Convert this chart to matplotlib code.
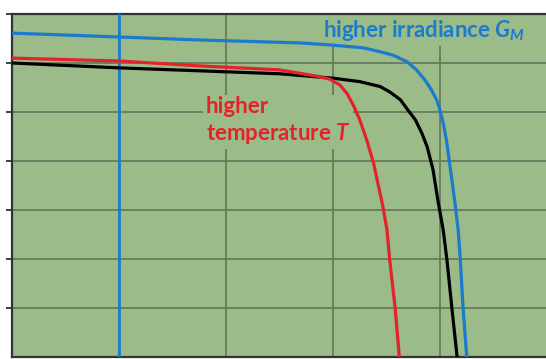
import matplotlib
matplotlib.use('Agg')
import matplotlib.pyplot as plt

# I-V curves (voltage V, current A)
v_ref = [0, 10.1, 17.6, 25.0, 30.0, 32.5, 34.4, 35.3, 36.3, 37.0, 37.7, 38.3, 38.8, 39.2,
         39.35, 39.8, 40.3, 40.65, 41.1, 41.6]
i_ref = [6.00, 5.90, 5.84, 5.78, 5.69, 5.62, 5.52, 5.41, 5.25, 5.04, 4.84, 4.57, 4.29, 3.95,
         3.82, 3.20, 2.59, 1.98, 1.02, 0.0]

v_irr = [0, 10.1, 17.6, 26.9, 29.7, 32.8, 34.4, 35.6, 36.9, 37.8, 38.6, 39.2, 39.7, 40.0,
         40.3, 40.6, 40.9, 41.4, 41.7, 41.9, 42.15, 42.5]
i_irr = [6.61, 6.53, 6.47, 6.41, 6.37, 6.31, 6.23, 6.16, 6.03, 5.86, 5.65, 5.45, 5.24, 5.04,
         4.77, 4.43, 3.95, 3.14, 2.59, 1.98, 1.02, 0.0]

v_temp = [0, 10.1, 17.6, 25.0, 26.9, 28.5, 29.7, 30.65, 31.3, 31.9, 32.5, 33.15, 33.8, 34.2,
          34.6, 35.05, 35.3, 35.8, 36.2]
i_temp = [6.10, 6.04, 5.94, 5.86, 5.79, 5.73, 5.67, 5.55, 5.38, 5.14, 4.84, 4.43, 3.95, 3.54,
          3.14, 2.59, 1.98, 1.02, 0.0]

v_mark = 10

bg = '#9bbb88'
grid_col = '#6a7a5e'
blue = '#1b7bcc'
red = '#e3232b'

plt.rcParams['font.family'] = ['Lato', 'DejaVu Sans']
plt.rcParams['mathtext.fontset'] = 'custom'
plt.rcParams['mathtext.it'] = 'Lato:italic:bold'
plt.rcParams['mathtext.rm'] = 'Lato:bold'

fig = plt.figure(figsize=(5.46, 3.59), dpi=100)
ax = fig.add_axes([12 / 546, 2 / 359, 535 / 546, 343 / 359])
ax.set_facecolor(bg)

ax.set_xlim(0, 50)
ax.set_ylim(0, 7)
ax.set_xticks([10, 20, 30, 40])
ax.set_yticks([1, 2, 3, 4, 5, 6, 7])
ax.grid(True, color=grid_col, linewidth=1.3)
ax.set_axisbelow(True)
ax.tick_params(axis='x', length=0, labelbottom=False)
ax.tick_params(axis='y', length=4, width=1.3, color='#333333', labelleft=False)

for side in ['left', 'top', 'bottom']:
    ax.spines[side].set_color('#333333')
    ax.spines[side].set_linewidth(1.6)
ax.spines['right'].set_visible(False)

ax.axvline(v_mark, color=blue, linewidth=2.0, zorder=2.8)

style = dict(linewidth=2.3, zorder=3, solid_capstyle='butt', solid_joinstyle='round')
ax.plot(v_ref, i_ref, color='black', **style)
ax.plot(v_irr, i_irr, color=blue, **style)
ax.plot(v_temp, i_temp, color=red, **style)

box = dict(facecolor=bg, edgecolor='none', pad=2)
ax.text(29.1, 6.53, r'higher irradiance $\mathit{G}_{\mathit{M}}$', color=blue,
        fontsize=16, fontweight='bold', va='baseline', ha='left', bbox=box, zorder=2.5)
ax.text(18.1, 4.43, 'higher\ntemperature $\\mathit{T}$', color=red, fontsize=16,
        fontweight='bold', va='baseline', ha='left', linespacing=1.2, bbox=box, zorder=2.5)

plt.savefig('out.png', dpi=100)
